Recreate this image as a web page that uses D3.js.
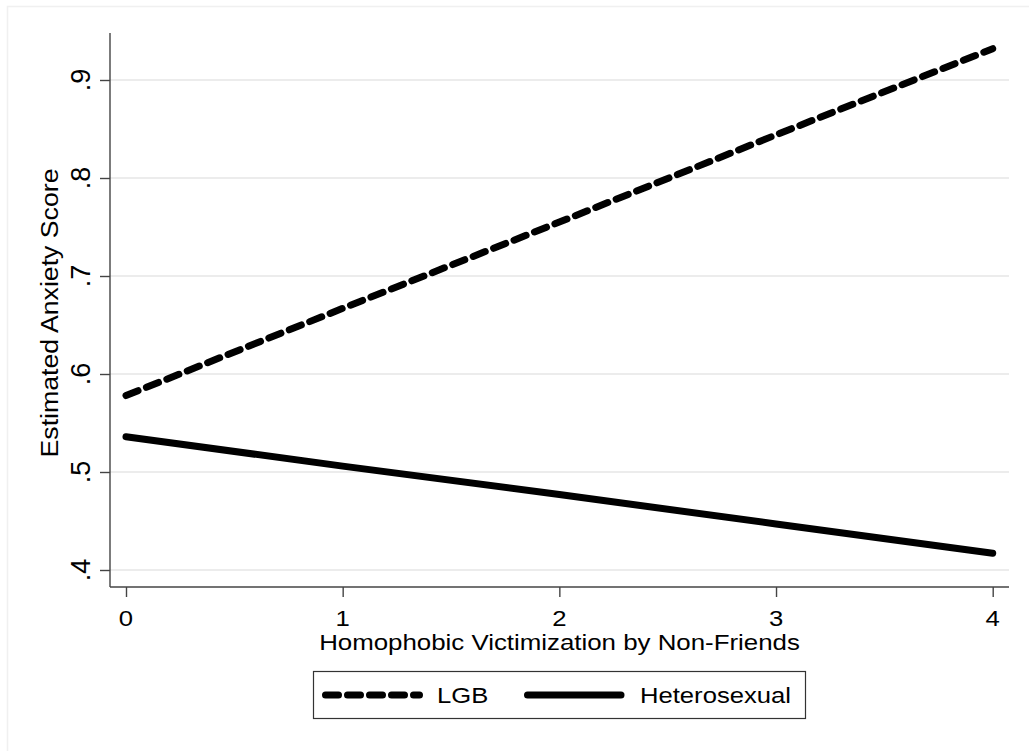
<!DOCTYPE html>
<html>
<head>
<meta charset="utf-8">
<script src="https://cdn.jsdelivr.net/npm/d3@7"></script>
<style>
  html, body { margin: 0; padding: 0; background: #fff; }
  svg { display: block; }
  text { font-family: "Liberation Sans", Arial, Helvetica, sans-serif; fill: #000; }
</style>
</head>
<body>
<svg id="chart" width="1029" height="751"></svg>
<script>
// Predicted anxiety by homophobic victimization from non-friends
const victimization = [0, 1, 2, 3, 4];
const lgbValues = [0.578, 0.667, 0.755, 0.844, 0.932];
const heteroValues = [0.536, 0.506, 0.477, 0.447, 0.417];
const seriesNames = ["LGB", "Heterosexual"];
const yTicks = [0.4, 0.5, 0.6, 0.7, 0.8, 0.9];
const xTicks = [0, 1, 2, 3, 4];
const xTitle = "Homophobic Victimization by Non-Friends";
const yTitle = "Estimated Anxiety Score";

const svg = d3.select("#chart");
const W = 1029, H = 751;

// plot region edges
const plotLeft = 110, plotRight = 1009, plotTop = 33, plotBottom = 587;

const x = d3.scaleLinear().domain([0, 4]).range([126, 992.7]);
const y = d3.scaleLinear().domain([0.4, 0.9]).range([570, 80]);

const fmtY = d => d3.format(".1f")(d).replace(/^0/, "");

// faint outer graph frame
svg.append("rect")
  .attr("x", 7.5).attr("y", 6.5)
  .attr("width", W).attr("height", H)
  .attr("fill", "none").attr("stroke", "#f0f0f0").attr("stroke-width", 1.5);

// horizontal grid lines
svg.append("g").selectAll("line").data(yTicks).join("line")
  .attr("x1", plotLeft).attr("x2", plotRight)
  .attr("y1", d => y(d)).attr("y2", d => y(d))
  .attr("stroke", "#ececec").attr("stroke-width", 2);

// y axis
const yAxis = svg.append("g").attr("transform", `translate(${plotLeft},0)`)
  .call(d3.axisLeft(y).tickValues(yTicks).tickSize(10).tickFormat(""));
yAxis.select(".domain").remove();
yAxis.selectAll(".tick line").attr("stroke", "#444").attr("stroke-width", 1.4);
svg.append("line")
  .attr("x1", plotLeft).attr("x2", plotLeft)
  .attr("y1", plotTop).attr("y2", plotBottom)
  .attr("stroke", "#444").attr("stroke-width", 1.4);

// rotated y tick labels
svg.append("g").selectAll("text").data(yTicks).join("text")
  .attr("transform", d => `translate(90,${y(d)}) rotate(-90)`)
  .attr("text-anchor", "middle")
  .style("font-size", "27px")
  .text(fmtY);

// x axis
const xAxis = svg.append("g").attr("transform", `translate(0,${plotBottom})`)
  .call(d3.axisBottom(x).tickValues(xTicks).tickSize(10).tickFormat(""));
xAxis.select(".domain").remove();
xAxis.selectAll(".tick line").attr("stroke", "#444").attr("stroke-width", 1.4);
svg.append("line")
  .attr("x1", plotLeft).attr("x2", plotRight)
  .attr("y1", plotBottom).attr("y2", plotBottom)
  .attr("stroke", "#444").attr("stroke-width", 1.4);

svg.append("g").selectAll("text").data(xTicks).join("text")
  .attr("transform", d => `translate(${x(d)},626) scale(1.2,1)`)
  .attr("text-anchor", "middle")
  .style("font-size", "21.4px")
  .text(d => d);

// axis titles
svg.append("text")
  .attr("transform", `translate(${(plotLeft + plotRight) / 2},650) scale(1.16,1)`)
  .attr("text-anchor", "middle")
  .style("font-size", "22.3px")
  .text(xTitle);

svg.append("text")
  .attr("transform", `translate(58,313) rotate(-90) scale(1.16,1)`)
  .attr("text-anchor", "middle")
  .style("font-size", "23px")
  .text(yTitle);

// series lines
const line = d3.line().x((d, i) => x(victimization[i])).y(d => y(d));
const dash = "13,9";

svg.append("path")
  .datum(heteroValues)
  .attr("d", line)
  .attr("fill", "none").attr("stroke", "#000")
  .attr("stroke-width", 7).attr("stroke-linecap", "round");

svg.append("path")
  .datum(lgbValues)
  .attr("d", line)
  .attr("fill", "none").attr("stroke", "#000")
  .attr("stroke-width", 7).attr("stroke-linecap", "round")
  .attr("stroke-dasharray", dash);

// legend
const lg = svg.append("g");
lg.append("rect")
  .attr("x", 313.5).attr("y", 671.5).attr("width", 492).attr("height", 47)
  .attr("fill", "#fff").attr("stroke", "#333").attr("stroke-width", 1.2);

const legendItems = [
  { name: seriesNames[0], x1: 325.5, x2: 419.5, tx: 437, dashed: true },
  { name: seriesNames[1], x1: 527.5, x2: 621, tx: 640, dashed: false }
];
legendItems.forEach(it => {
  lg.append("line")
    .attr("x1", it.x1).attr("x2", it.x2).attr("y1", 695).attr("y2", 695)
    .attr("stroke", "#000").attr("stroke-width", 7).attr("stroke-linecap", "round")
    .attr("stroke-dasharray", it.dashed ? dash : null);
  lg.append("text")
    .attr("transform", `translate(${it.tx},703) scale(1.165,1)`)
    .style("font-size", "22px")
    .text(it.name);
});
</script>
</body>
</html>
